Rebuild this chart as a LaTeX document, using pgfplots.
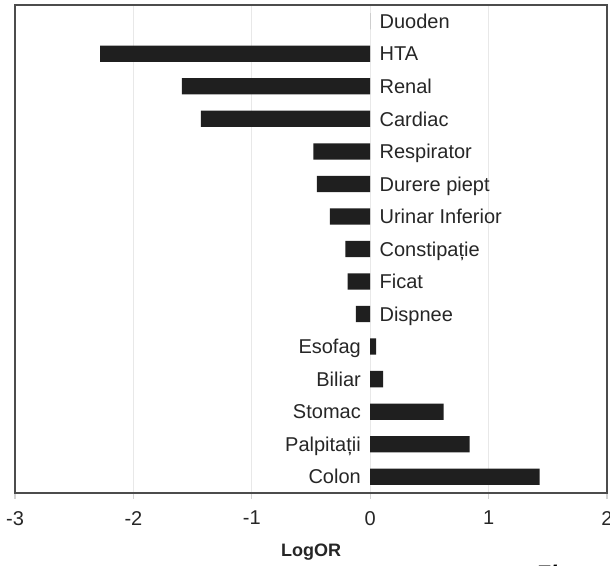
\documentclass[border=0pt]{standalone}
\usepackage{fontspec}
\setmainfont{Liberation Sans}
\usepackage{pgfplots}
\usepackage{pgfplotstable}
\pgfplotsset{compat=1.18}

% log odds ratio per symptom group, one row per category (top to bottom)
\pgfplotstableread[col sep=comma]{
pos,logor,name
15,0,Duoden
14,-2.28,HTA
13,-1.59,Renal
12,-1.43,Cardiac
11,-0.48,Respirator
10,-0.45,Durere piept
9,-0.34,Urinar Inferior
8,-0.21,Constipație
7,-0.19,Ficat
6,-0.12,Dispnee
5,0.05,Esofag
4,0.11,Biliar
3,0.62,Stomac
2,0.84,Palpitații
1,1.43,Colon
}\logordata

\begin{document}
\begin{tikzpicture}
\begin{axis}[
  scale only axis, width=296pt, height=244pt,
  xmin=-3, xmax=2, ymin=0.5, ymax=15.5,
  xtick={-3,-2,-1,0,1,2}, ytick=\empty,
  xmajorgrids, grid style={gray!18, line width=0.6pt},
  axis line style={black!70, line width=0.8pt},
  tick style={gray!35, line width=0.6pt}, major tick length=3pt,
  tick pos=bottom, tick align=outside,
  /pgf/number format/assume math mode=true,
  xticklabel style={font=\fontsize{10}{12}\selectfont, text=black!85, yshift=-2.5pt},
  xlabel={LogOR},
  xlabel style={at={(axis description cs:0.5,0)}, anchor=base, yshift=-32pt,
    font=\bfseries\fontsize{9}{11}\selectfont, text=black!85},
  clip=false,
]
% bars
\addplot[xbar, bar width=0.5, fill=black!88, draw=none]
  table[x=logor, y=pos] {\logordata};
% names right of zero for non-positive values
\addplot[draw=none, mark=none, nodes near coords, point meta=explicit symbolic,
  nodes near coords style={anchor=base west, inner sep=0pt, xshift=4.5pt, yshift=-3.6pt,
    font=\fontsize{10}{12}\selectfont, text=black!85}]
  table[x expr={\thisrow{logor}>0 ? nan : 0}, y=pos, meta=name] {\logordata};
% names left of zero for positive values
\addplot[draw=none, mark=none, nodes near coords, point meta=explicit symbolic,
  nodes near coords style={anchor=base east, inner sep=0pt, xshift=-4.5pt, yshift=-3.6pt,
    font=\fontsize{10}{12}\selectfont, text=black!85}]
  table[x expr={\thisrow{logor}>0 ? 0 : nan}, y=pos, meta=name] {\logordata};
\end{axis}
% caption line running below the page edge
\node[anchor=base west, inner sep=0pt, font=\bfseries\itshape\fontsize{12}{14}\selectfont]
  at ([shift={(260pt,-45pt)}]current axis.south west) {Figura};
\pgfresetboundingbox
\path ([shift={(-7.5pt,-36.5pt)}]current axis.south west)
  rectangle ([shift={(1.5pt,2.5pt)}]current axis.north east);
\end{tikzpicture}
\end{document}
